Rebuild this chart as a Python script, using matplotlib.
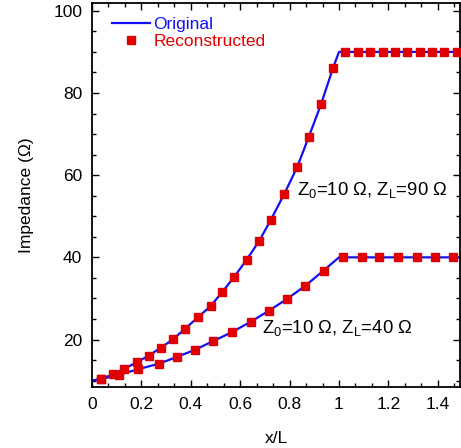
import matplotlib.pyplot as plt
from matplotlib.ticker import MultipleLocator

plt.rcParams['font.family'] = ['Liberation Sans', 'DejaVu Sans']
plt.rcParams['mathtext.fontset'] = 'custom'
plt.rcParams['mathtext.rm'] = 'Liberation Sans'

# Original (line) Z_L = 90
orig90_x = [0.0, 0.0375, 0.087, 0.131, 0.181, 0.230, 0.279, 0.329, 0.376, 0.431, 0.481,
            0.528, 0.575, 0.626, 0.676, 0.723, 0.779, 0.831, 0.877, 0.927, 0.976, 1.0, 1.5]
orig90_y = [10.0, 10.4, 11.6, 12.9, 14.45, 16.1, 18.0, 20.1, 22.6, 25.5, 28.2,
            31.6, 35.2, 39.4, 43.9, 49.0, 55.5, 62.0, 69.2, 77.2, 86.1, 90.0, 90.0]

# Original (line) Z_L = 40
orig40_x = [0.0, 0.0375, 0.111, 0.188, 0.270, 0.343, 0.417, 0.488, 0.565, 0.642, 0.716,
            0.790, 0.864, 0.938, 1.0, 1.5]
orig40_y = [10.0, 10.4, 11.45, 12.8, 14.1, 15.75, 17.5, 19.55, 21.75, 24.3, 27.0,
            29.9, 33.1, 36.8, 40.0, 40.0]

# Reconstructed (markers)
rec90_x = [0.0375, 0.087, 0.131, 0.181, 0.230, 0.279, 0.329, 0.376, 0.431, 0.481,
           0.528, 0.575, 0.626, 0.676, 0.723, 0.779, 0.831, 0.877, 0.927, 0.976,
           1.025, 1.077, 1.126, 1.177, 1.227, 1.277, 1.328, 1.377, 1.425, 1.476]
rec90_y = [10.4, 11.6, 12.9, 14.45, 16.1, 18.0, 20.1, 22.6, 25.5, 28.2,
           31.6, 35.2, 39.4, 43.9, 49.0, 55.5, 62.0, 69.2, 77.2, 86.1,
           90, 90, 90, 90, 90, 90, 90, 90, 90, 90]

rec40_x = [0.0375, 0.111, 0.188, 0.270, 0.343, 0.417, 0.488, 0.565, 0.642, 0.716,
           0.790, 0.864, 0.938, 1.016, 1.093, 1.164, 1.238, 1.314, 1.388, 1.462]
rec40_y = [10.4, 11.45, 12.8, 14.1, 15.75, 17.5, 19.55, 21.75, 24.3, 27.0,
           29.9, 33.1, 36.8, 40.0, 40, 40, 40, 40, 40, 40]

xtick_vals = [0, 0.2, 0.4, 0.6, 0.8, 1.0, 1.2, 1.4]
xtick_labels = ['0', '0.2', '0.4', '0.6', '0.8', '1', '1.2', '1.4']
ytick_vals = [20, 40, 60, 80, 100]

blue = '#1010f0'
red = '#e00000'
OMEGA = '\u03a9'

fig = plt.figure(figsize=(4.61, 4.48), dpi=100)
ax = fig.add_axes([92 / 461, 1 - 387 / 448, 368 / 461, 384 / 448])

ax.plot(orig90_x, orig90_y, color=blue, lw=1.6, label='Original', zorder=2)
ax.plot(orig40_x, orig40_y, color=blue, lw=1.6, zorder=2)
ax.plot(rec90_x, rec90_y, ls='none', marker='s', ms=6.3, color=red, label='Reconstructed', zorder=3)
ax.plot(rec40_x, rec40_y, ls='none', marker='s', ms=6.3, color=red, zorder=3)

ax.set_xlim(0, 1.49)
ax.set_ylim(8.45, 101.9)
ax.xaxis.set_minor_locator(MultipleLocator(0.2 / 3))
ax.yaxis.set_minor_locator(MultipleLocator(5))
ax.set_xticks(xtick_vals)
ax.set_xticklabels(xtick_labels)
ax.set_yticks(ytick_vals)

ax.tick_params(which='both', direction='in', top=True, right=True, labelsize=12.5, width=1)
ax.tick_params(which='major', length=5)
ax.tick_params(which='minor', length=3)
ax.tick_params(axis='x', pad=7)
ax.tick_params(axis='y', pad=7)
for s in ax.spines.values():
    s.set_linewidth(1.3)

ax.set_xlabel('x/L', fontsize=12.5, labelpad=14)
ax.set_ylabel(f'Impedance ({OMEGA})', fontsize=12.5, labelpad=14)

ax.text(0.832, 56.5, rf'$\mathregular{{Z_0}}$=10 {OMEGA}, $\mathregular{{Z_L}}$=90 {OMEGA}',
        fontsize=13.3, va='center', ha='left')
ax.text(0.69, 22.9, rf'$\mathregular{{Z_0}}$=10 {OMEGA}, $\mathregular{{Z_L}}$=40 {OMEGA}',
        fontsize=13.3, va='center', ha='left')

ax.legend(loc='upper left', bbox_to_anchor=(0.025, 0.99), frameon=False, fontsize=12.5,
          labelcolor='linecolor', numpoints=1, handlelength=2.2, handletextpad=0.2,
          labelspacing=0.1, borderaxespad=0.2)

fig.savefig('out.png', dpi=100)
